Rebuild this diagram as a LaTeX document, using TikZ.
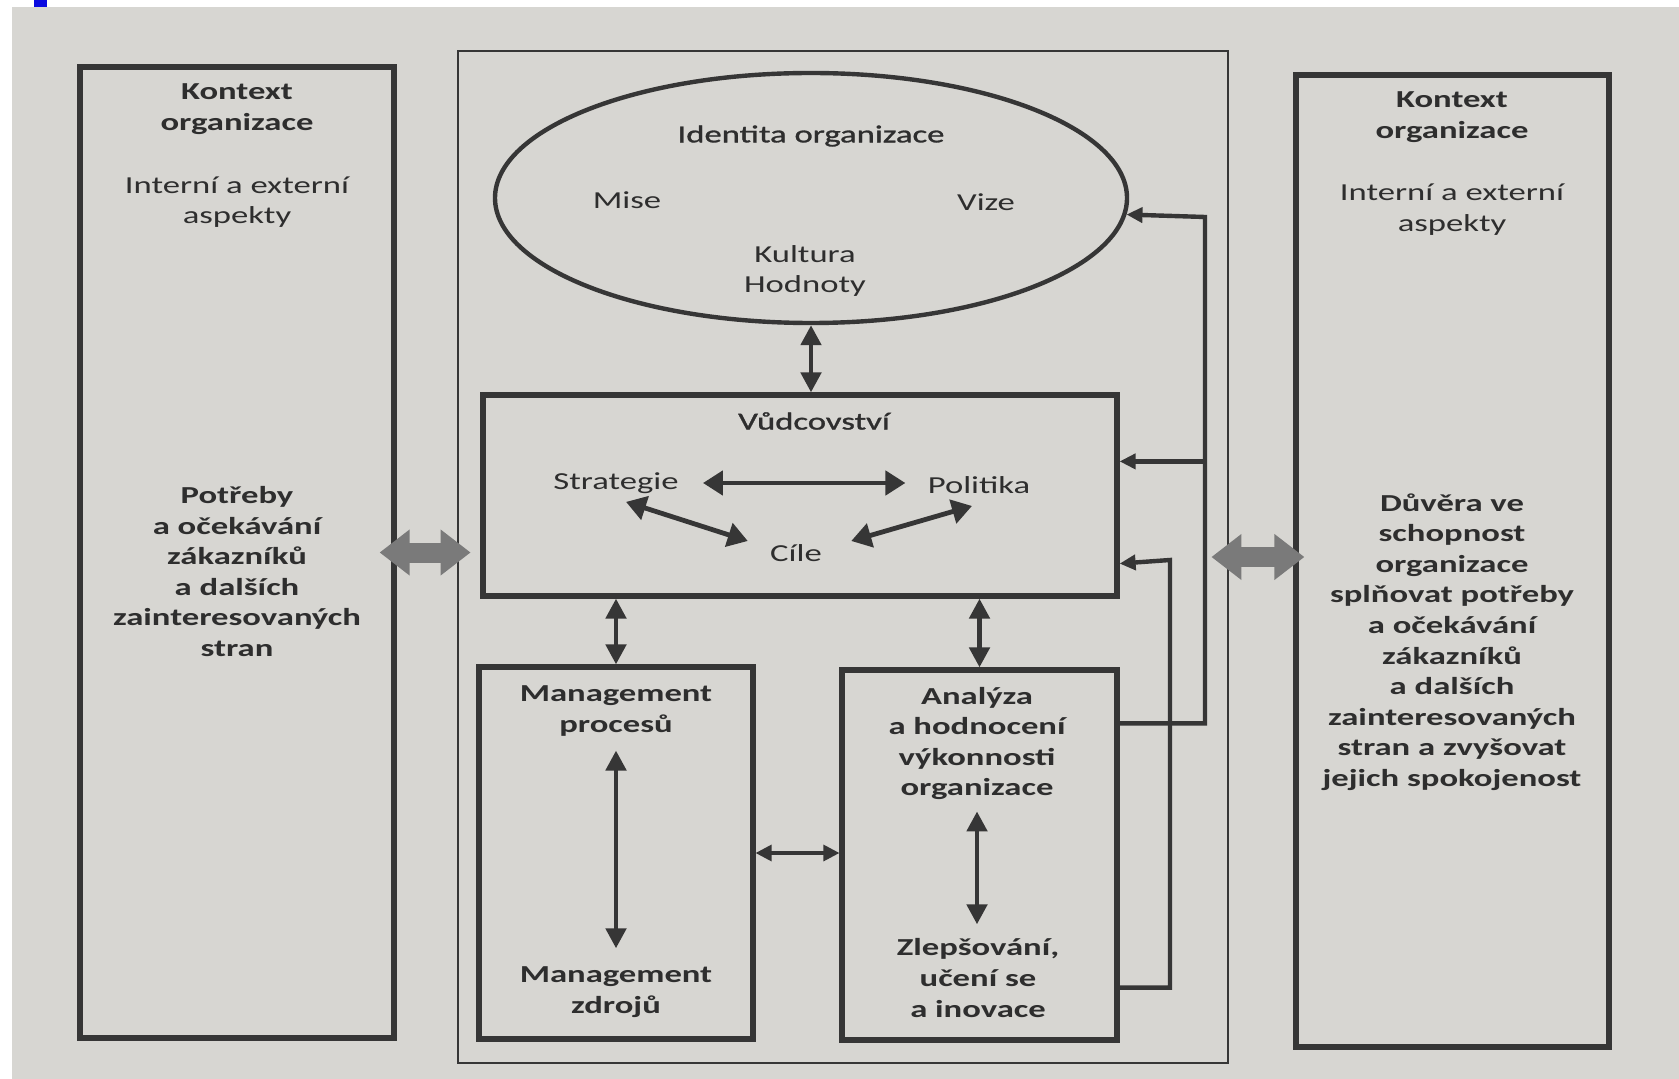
\documentclass[tikz,border=0pt]{standalone}
\usepackage{fontspec}
\setmainfont{Carlito}[FakeStretch=1.42]
\newfontfamily\semib{Carlito}[FakeStretch=1.42,FakeBold=1.2]
\usetikzlibrary{arrows.meta,shapes.geometric}
\definecolor{paper}{HTML}{D7D6D2}
\definecolor{ink}{HTML}{363636}
\definecolor{txt}{HTML}{2E2E2E}
\definecolor{bigarr}{HTML}{7A7A7A}
\definecolor{bluemark}{HTML}{0A0AE0}
\begin{document}
\begin{tikzpicture}[x=0.5pt,y=-0.5pt,
  every node/.style={text=txt, inner sep=0pt, align=center},
  t/.style={font=\fontsize{12.2}{15.3}\selectfont},
  tb/.style={font=\fontsize{12.2}{15.3}\selectfont\bfseries},
  ts/.style={font=\fontsize{12.2}{15.3}\selectfont\semib},
  box/.style={draw=ink, line width=2.6pt},
  dbl/.style={draw=ink, line width=2.4pt, >={Triangle[length=10pt,width=10pt]}, <->},
  dbl2/.style={draw=ink, line width=2.4pt, >={Triangle[length=10pt,width=12pt]}, <->},
  thinarr/.style={draw=ink, line width=1.6pt, >={Triangle[length=8pt,width=8pt]}, <->},
  fb/.style={draw=ink, line width=2.2pt, >={Triangle[length=8pt,width=7.5pt]}, ->},
  bigarrow/.style={draw=bigarr, line width=10pt, arrows={Triangle[length=15pt,width=22pt]-Triangle[length=15pt,width=22pt]}}
]
\useasboundingbox (0,0) rectangle (1679,1079);
\fill[white] (0,0) rectangle (1679,1079);
\fill[paper] (12,7) rectangle (1679,1079);
\fill[bluemark] (34,0) rectangle (47,7);

% boxes
\node[box, minimum width=157pt, minimum height=485.5pt] (lbox) at (237,552.5) {};
\node[box, line width=1.4pt, minimum width=385pt, minimum height=506pt] (cbox) at (843,557) {};
\node[box, minimum width=156.5pt, minimum height=486pt] (rbox) at (1452.5,561) {};
\node[draw=ink, line width=2.2pt, ellipse, minimum width=316pt, minimum height=125pt] (ell) at (811,198) {};
\node[box, minimum width=317pt, minimum height=100.5pt] (vb) at (800,495.5) {};
\node[box, minimum width=137pt, minimum height=186pt] (mg) at (616,853) {};
\node[box, minimum width=137.5pt, minimum height=185pt] (an) at (979.5,855) {};

% left box texts
\node[tb] (l1) at (237,109) {Kontext\\organizace};
\node[t] (l2) at (237,202) {Interní a externí\\aspekty};
\node[tb] (l3) at (237,571.5) {Potřeby\\a očekávání\\zákazníků\\a dalších\\zainteresovaných\\stran};

% right box texts
\node[tb] (r1) at (1452,117) {Kontext\\organizace};
\node[t] (r2) at (1452,209.5) {Interní a externí\\aspekty};
\node[tb] (r3) at (1452,642) {Důvěra ve\\schopnost\\organizace\\splňovat potřeby\\a očekávání\\zákazníků\\a dalších\\zainteresovaných\\stran a zvyšovat\\jejich spokojenost};

% ellipse texts
\node[ts] (idt) at (811,136) {Identita organizace};
\node[t] (mise) at (627,200) {Mise};
\node[t] (vize) at (986,202) {Vize};
\node[t] (kult) at (805,271) {Kultura\\Hodnoty};

% leadership texts
\node[ts] (vud) at (814,421) {Vůdcovství};
\node[t] (strat) at (616,483) {Strategie};
\node[t] (pol) at (979,485) {Politika};
\node[t] (cile) at (796,553) {Cíle};

% lower boxes texts
\node[tb] (mgt1) at (616,711) {Management\\procesů};
\node[tb] (mgt2) at (616,992) {Management\\zdrojů};
\node[tb] (an1) at (977,743.5) {Analýza\\a hodnocení\\výkonnosti\\organizace};
\node[tb] (an2) at (978,978) {Zlepšování,\\učení se\\a inovace};

% connectors
\draw[dbl] (ell.south) -- (ell.south |- vb.north);
\draw[dbl] (mg.north) -- (mg.north |- vb.south);
\draw[dbl] (an.north) -- (an.north |- vb.south);
\draw[thinarr] (mg.east) -- (mg.east -| an.west);
\draw[dbl, shorten <=7pt, shorten >=9pt] (mgt1.south) -- (mgt2.north);
\draw[dbl, shorten <=5.5pt, shorten >=7pt] (an1.south) -- (an1.south |- an2.north);

\draw[dbl2, shorten <=12pt, shorten >=11pt] (strat.east) -- (strat.east -| pol.west);
\draw[dbl2] ([xshift=5pt,yshift=-4pt]strat.south) -- ([xshift=-11pt,yshift=6pt]cile.west);
\draw[dbl2] ([xshift=-3.5pt,yshift=-6pt]pol.south) -- ([xshift=14.5pt,yshift=6pt]cile.east);

% feedback loops
\coordinate (fb1) at (1205,217);
\coordinate (fb2) at (1170,560);
\coordinate (vin1) at ([yshift=-34.5pt]vb.north east);
\coordinate (vin2) at ([yshift=17.5pt]vb.south east);
\coordinate (aout1) at ([yshift=-28pt]an.north east);
\coordinate (aout2) at ([yshift=27.5pt]an.south east);
\draw[fb] (aout1) -| (fb1) -- (ell.-3.5);
\draw[fb] (vin1 -| fb1) -- (vin1);
\draw[fb] (aout2) -| (fb2) -- (vin2);

% big grey arrows
\draw[bigarrow, shorten <=-8.5pt, shorten >=-7pt] (lbox.east) -- (lbox.east -| cbox.west);
\draw[bigarrow, shorten <=-9pt, shorten >=-5.5pt] (cbox.east) -- (cbox.east -| rbox.west);
\end{tikzpicture}
\end{document}
